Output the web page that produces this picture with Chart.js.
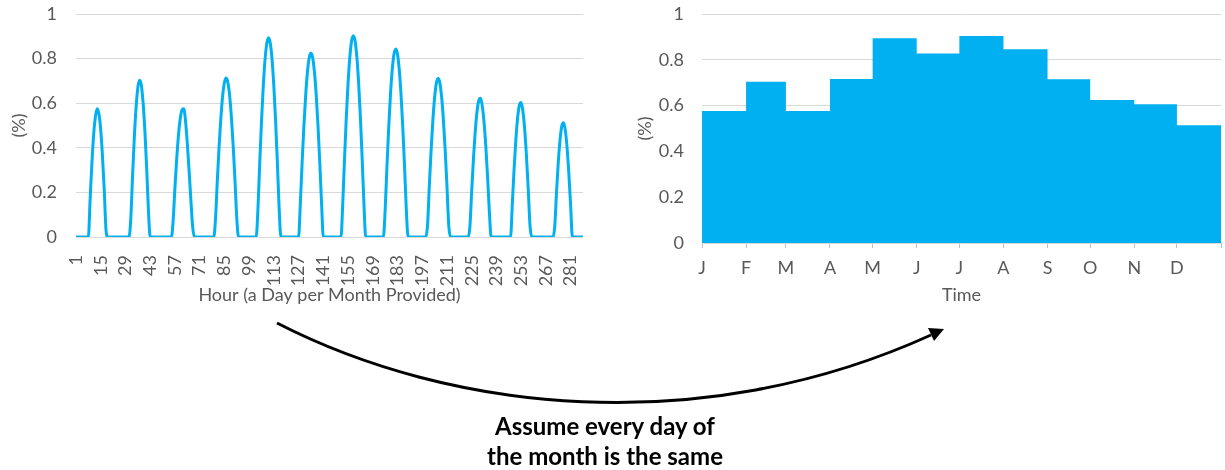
<!DOCTYPE html>
<html>
<head>
<meta charset="utf-8">
<script src="https://cdn.jsdelivr.net/npm/chart.js@4.4.1/dist/chart.umd.min.js"></script>
<style>
  html, body { margin: 0; padding: 0; background: #ffffff; }
  body { width: 1225px; height: 470px; position: relative; overflow: hidden; font-family: Lato, "Open Sans", sans-serif; }
  #hourly { position: absolute; left: 0; top: 0; }
  #monthly { position: absolute; left: 612px; top: 0; }
  #arrow { position: absolute; left: 0; top: 0; }
  #note { position: absolute; left: 405px; top: 411px; width: 400px; text-align: center;
          font: bold 24px/30px Lato, sans-serif; color: #000000; }
</style>
</head>
<body>
<canvas id="hourly" width="600" height="310"></canvas>
<canvas id="monthly" width="613" height="310"></canvas>
<svg id="arrow" width="1225" height="470" viewBox="0 0 1225 470">
  <path d="M277,323 C450,412 700,440 931,335" fill="none" stroke="#000000" stroke-width="3"/>
  <polygon points="944,329 934,341 928,328" fill="#000000"/>
</svg>
<div id="note">Assume every day of<br>the month is the same</div>

<script>
// One representative day per month, hourly output share (hour 0..23)
const day01 = [0,0,0,0,0,0,0,0, 0.17,0.33,0.46,0.54,0.575,0.55,0.48,0.36,0.21,0.03, 0,0,0,0,0,0];
const day02 = [0,0,0,0,0,0,0, 0.08,0.27,0.445,0.58,0.67,0.703,0.68,0.60,0.475,0.31,0.12, 0,0,0,0,0,0];
const day03 = [0,0,0,0,0,0,0, 0.075,0.22,0.35,0.456,0.53,0.57,0.575,0.52,0.42,0.30,0.17,0.05, 0,0,0,0,0];
const day04 = [0,0,0,0,0,0,0, 0.086,0.253,0.406,0.533,0.632,0.692,0.713,0.692,0.632,0.533,0.406,0.253,0.086, 0,0,0,0];
const day05 = [0,0,0,0,0,0,0, 0.127,0.331,0.518,0.675,0.794,0.868,0.893,0.868,0.794,0.675,0.518,0.331,0.127, 0,0,0,0];
const day06 = [0,0,0,0,0,0,0, 0.152,0.333,0.497,0.634,0.738,0.803,0.825,0.803,0.738,0.634,0.497,0.333,0.152, 0,0,0,0];
const day07 = [0,0,0,0,0,0,0, 0.148,0.350,0.535,0.689,0.805,0.879,0.903,0.879,0.805,0.689,0.535,0.350,0.148, 0,0,0,0];
const day08 = [0,0,0,0,0,0,0, 0.120,0.313,0.489,0.637,0.749,0.819,0.843,0.819,0.749,0.637,0.489,0.313,0.120, 0,0,0,0];
const day09 = [0,0,0,0,0,0,0, 0.053,0.227,0.387,0.522,0.625,0.690,0.712,0.690,0.625,0.522,0.387,0.227,0.053, 0,0,0,0];
const day10 = [0,0,0,0,0,0,0, 0.049,0.208,0.353,0.473,0.562,0.612,0.622,0.587,0.513,0.404,0.268,0.113, 0,0,0,0,0];
const day11 = [0,0,0,0,0,0,0, 0.151,0.306,0.438,0.535,0.591,0.603,0.563,0.482,0.362,0.215,0.051, 0,0,0,0,0,0];
const day12 = [0,0,0,0,0,0,0, 0.047,0.200,0.333,0.435,0.497,0.512,0.477,0.399,0.283,0.140, 0,0,0,0,0,0,0];

// Monthly level when every day of the month repeats its representative day
const monthlyValues = [0.576, 0.704, 0.576, 0.716, 0.894, 0.828, 0.904, 0.846, 0.715, 0.624, 0.606, 0.514];
const monthLetters = ['J','F','M','A','M','J','J','A','S','O','N','D'];
const monthStartDays = [0, 31, 59, 90, 120, 151, 181, 212, 243, 273, 304, 334, 365];

const yTicks = [0, 0.2, 0.4, 0.6, 0.8, 1];
const hourLabelStep = 14;

const hourlyValues = [].concat(day01, day02, day03, day04, day05, day06,
                               day07, day08, day09, day10, day11, day12);
const hourLabels = hourlyValues.map((_, i) => String(i + 1));

const BLUE = '#00B0F0';
const TEXT = '#595959';
const GRID = '#D9D9D9';
const FONT = 'Lato';
const FSIZE = 18;

function yTickLabel(v) {
  return String(Math.round(v * 10) / 10);
}

// Fixed axis box sizes; the plot edges come from layout padding alone
function fixBox(size, horizontal) {
  return (s) => {
    if (horizontal) { s.height = size; } else { s.width = size; }
    s.paddingTop = 0; s.paddingBottom = 0; s.paddingLeft = 0; s.paddingRight = 0;
  };
}

new Chart(document.getElementById('hourly'), {
  type: 'line',
  data: {
    labels: hourLabels,
    datasets: [{
      data: hourlyValues,
      borderColor: BLUE,
      borderWidth: 3,
      pointRadius: 0,
      cubicInterpolationMode: 'monotone',
      fill: false
    }]
  },
  options: {
    responsive: false,
    animation: false,
    layout: { padding: { left: 0, right: 17, top: 14, bottom: 4 } },
    plugins: { legend: { display: false }, tooltip: { enabled: false } },
    scales: {
      x: {
        type: 'category',
        offset: false,
        grid: { display: false },
        border: { display: false },
        ticks: {
          autoSkip: false,
          minRotation: 90,
          maxRotation: 90,
          padding: 10,
          color: TEXT,
          font: { family: FONT, size: FSIZE },
          callback: (v, i) => (i % hourLabelStep === 0 ? hourLabels[i] : '')
        },
        title: {
          display: true,
          text: 'Hour (a Day per Month Provided)',
          color: TEXT,
          font: { family: FONT, size: FSIZE },
          padding: { top: 0, bottom: 0 }
        },
        afterFit: fixBox(69, true)
      },
      y: {
        min: 0,
        max: 1,
        afterBuildTicks: (s) => { s.ticks = yTicks.map(v => ({ value: v })); },
        grid: { color: GRID, lineWidth: 1, drawTicks: false },
        border: { display: false },
        ticks: {
          padding: 19,
          color: TEXT,
          font: { family: FONT, size: FSIZE },
          callback: yTickLabel
        },
        title: {
          display: true,
          text: '(%)',
          color: TEXT,
          font: { family: FONT, size: FSIZE },
          padding: { top: 8, bottom: 0 }
        },
        afterFit: fixBox(76, false)
      }
    }
  }
});

// Stepped monthly profile: each month holds its value until the next month starts
const monthlyPoints = monthlyValues.map((v, i) => ({ x: monthStartDays[i], y: v }));
monthlyPoints.push({ x: monthStartDays[12], y: monthlyValues[11] });

new Chart(document.getElementById('monthly'), {
  type: 'line',
  data: {
    datasets: [{
      data: monthlyPoints,
      stepped: true,
      borderWidth: 0,
      borderColor: BLUE,
      backgroundColor: BLUE,
      pointRadius: 0,
      fill: 'origin'
    }]
  },
  options: {
    responsive: false,
    animation: false,
    layout: { padding: { left: 0, right: 4, top: 14, bottom: 4 } },
    plugins: { legend: { display: false }, tooltip: { enabled: false } },
    scales: {
      x: {
        type: 'linear',
        min: 0,
        max: 365,
        afterBuildTicks: (s) => { s.ticks = monthStartDays.map(d => ({ value: d })); },
        grid: { drawOnChartArea: false, drawTicks: true, tickLength: 5, tickColor: '#BFBFBF' },
        border: { display: false },
        ticks: {
          autoSkip: false,
          maxRotation: 0,
          padding: 9,
          color: TEXT,
          font: { family: FONT, size: FSIZE },
          callback: (v, i) => (i < monthLetters.length ? monthLetters[i] : '')
        },
        title: {
          display: true,
          text: 'Time',
          color: TEXT,
          font: { family: FONT, size: FSIZE },
          padding: { top: 0, bottom: 0 }
        },
        afterFit: fixBox(63, true)
      },
      y: {
        min: 0,
        max: 1,
        afterBuildTicks: (s) => { s.ticks = yTicks.map(v => ({ value: v })); },
        grid: { color: GRID, lineWidth: 1, drawTicks: false },
        border: { display: false },
        ticks: {
          padding: 18,
          color: TEXT,
          font: { family: FONT, size: FSIZE },
          callback: yTickLabel
        },
        title: {
          display: true,
          text: '(%)',
          color: TEXT,
          font: { family: FONT, size: FSIZE },
          padding: { top: 22, bottom: 0 }
        },
        afterFit: fixBox(90, false)
      }
    }
  }
});
</script>
</body>
</html>
